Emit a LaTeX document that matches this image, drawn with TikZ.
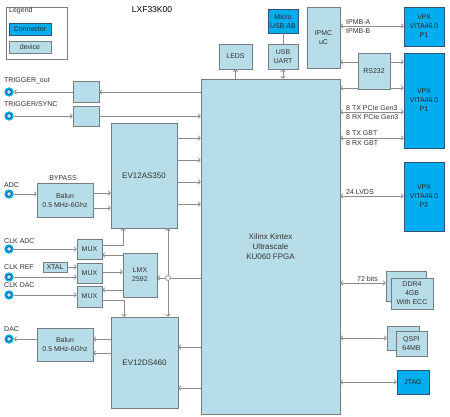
\documentclass[tikz,border=0pt]{standalone}
\usepackage{fontspec}
\setmainfont{Liberation Sans}
\usetikzlibrary{arrows.meta}
\definecolor{devfill}{RGB}{183,221,232}
\definecolor{devline}{RGB}{115,125,130}
\definecolor{confill}{RGB}{0,174,239}
\definecolor{conline}{RGB}{45,85,115}
\definecolor{wirecol}{RGB}{140,140,140}
\definecolor{jackin}{RGB}{25,70,130}
\tikzset{every picture/.style={x=1pt,y=-1pt}}
\tikzset{box/.style={rectangle,draw=devline,fill=devfill,line width=.6pt,inner sep=0pt,align=center,text=black!80,font=\fontsize{7}{9}\selectfont}}
\tikzset{port/.style={box,draw=conline,fill=confill,text=black!85}}
\tikzset{note/.style={inner sep=0pt,text=black!80,font=\fontsize{7}{9}\selectfont}}
\tikzset{jack/.style={circle,fill=confill,inner sep=0pt,minimum size=9.4,path picture={\draw [jackin,line width=.8pt,fill=white!75!confill] (path picture bounding box.center) circle (2.4);}}}
\tikzset{dot/.style={circle,draw=wirecol,fill=white,line width=.7pt,inner sep=0pt,minimum size=5}}
\tikzset{wire/.style={draw=wirecol,line width=.8pt}}
\tikzset{sig/.style={wire,-{Straight Barb[length=2pt,width=4.5pt]}}}
\tikzset{bus/.style={wire,{Straight Barb[length=2pt,width=4.5pt]}-{Straight Barb[length=2pt,width=4.5pt]}}}

\begin{document}
\begin{tikzpicture}
\useasboundingbox (0,0) rectangle (450,416);
% legend
\node [draw=devline,fill=white,line width=.6pt,minimum width=61,minimum height=52] (legend) at (36.5,33) {};
\node [note,anchor=west] (legendt) at (9,11) {Legend};
\node [port,minimum width=42,minimum height=12] (legconn) at (30,29) {Connector};
\node [box,minimum width=42,minimum height=12] (legdev) at (30,47) {device};
\node [note,font=\fontsize{8.5}{10}\selectfont,text=black] (title) at (152,10) {LXF33K00};

% fpga and the parts round it
\node [box,minimum width=139,minimum height=335,font=\fontsize{8}{10}\selectfont] (fpga) at (270.5,246.5) {Xilinx Kintex\\Ultrascale\\KU060 FPGA};
\node [port,minimum width=30,minimum height=24] (micro) at (283,21) {Micro\\USB AB};
\node [box,minimum width=33,minimum height=25] (leds) at (235.5,56.5) {LEDS};
\node [box,minimum width=30,minimum height=25] (uart) at (283,56.5) {USB\\UART};
\node [box,minimum width=33,minimum height=61] (ipmc) at (323.5,37.5) {IPMC\\uC};
\node [box,minimum width=32,minimum height=36] (rs232) at (374,71) {RS232};
\node [port,minimum width=40,minimum height=39] (vpxa) at (424,26.5) {VPX\\VITA46.0\\P1};
\node [port,minimum width=40,minimum height=95] (vpxb) at (424,100.5) {VPX\\VITA46.0\\P1};
\node [port,minimum width=40,minimum height=69] (vpxc) at (424,196.5) {VPX\\VITA46.0\\P2};
\node [box,minimum width=40,minimum height=30] (ddrback) at (406,286) {};
\node [box,minimum width=42,minimum height=31] (ddr) at (412,293.5) {DDR4\\4GB\\With ECC};
\node [box,minimum width=32,minimum height=24] (qspiback) at (403,338) {};
\node [box,minimum width=31,minimum height=25] (qspi) at (411.5,343.5) {QSPI\\64MB};
\node [port,minimum width=32,minimum height=24] (jtag) at (413,382) {JTAG};

% converters and clocks
\node [box,minimum width=26,minimum height=21] (trigout) at (86,91.5) {};
\node [box,minimum width=26,minimum height=20] (trigsync) at (86,116) {};
\node [box,minimum width=66,minimum height=105,font=\fontsize{8}{10}\selectfont] (adc) at (144,175.5) {EV12AS350};
\node [box,minimum width=56,minimum height=34] (balunadc) at (65,200) {Balun\\0.5 MHz-6Ghz};
\node [box,minimum width=25,minimum height=20] (muxadc) at (89.5,249) {MUX};
\node [box,minimum width=25,minimum height=20] (muxref) at (89.5,273) {MUX};
\node [box,minimum width=25,minimum height=21] (muxdac) at (89.5,296.5) {MUX};
\node [box,minimum width=24,minimum height=10] (xtal) at (55,267) {XTAL};
\node [box,minimum width=34,minimum height=44] (lmx) at (140,275) {LMX\\2592};
\node [box,minimum width=67,minimum height=91,font=\fontsize{8}{10}\selectfont] (dac) at (144.5,362.5) {EV12DS460};
\node [box,minimum width=56,minimum height=33] (balundac) at (65,344.5) {Balun\\0.5 MHz-6Ghz};
\node [dot] (junc) at (168,278) {};

% front panel jacks
\node [jack] (jtrigout) at (9,92) {};
\node [jack] (jtrigsync) at (9,116) {};
\node [jack] (jadc) at (9,194) {};
\node [jack] (jclkadc) at (9,249) {};
\node [jack] (jclkref) at (9,277) {};
\node [jack] (jclkdac) at (9,295) {};
\node [jack] (jdac) at (9,339) {};
\node [note,anchor=west] at (4,81) {TRIGGER\_out};
\node [note,anchor=west] at (4,104) {TRIGGER/SYNC};
\node [note,anchor=west] at (4,185) {ADC};
\node [note,anchor=west] at (4,241) {CLK ADC};
\node [note,anchor=west] at (4,267) {CLK REF};
\node [note,anchor=west] at (4,285) {CLK DAC};
\node [note,anchor=west] at (4,329) {DAC};
\node [note] at (63,178) {BYPASS};

% triggers
\draw [sig] (fpga.west |- jtrigout) -- (trigout.east |- jtrigout);
\draw [sig] (trigout.west |- jtrigout) -- (jtrigout.east);
\draw [sig] (jtrigsync.east) -- (trigsync.west);
\draw [sig] (trigsync.east) -- (fpga.west |- trigsync);

% adc path
\draw [sig] (jadc.east) -- (balunadc.west |- jadc);
\draw [sig] (balunadc.east |- 0,193) -- (adc.west |- 0,193);
\draw [sig] (balunadc.east |- 0,208) -- (adc.west |- 0,208);
\draw [sig] (adc.east |- 0,138) -- (fpga.west |- 0,138);
\draw [sig] (adc.east |- 0,160) -- (fpga.west |- 0,160);
\draw [sig] (adc.east |- 0,182) -- (fpga.west |- 0,182);
\draw [sig] (adc.east |- 0,204) -- (fpga.west |- 0,204);

% clocks
\draw [sig] (jclkadc.east) -- (muxadc.west |- jclkadc);
\draw [sig] (muxadc.east |- 0,245) -| (adc.south -| 123,0);
\draw [sig] (lmx.west |- 0,255) -- (muxadc.east |- 0,255);
\draw [sig] (xtal.east) -- (muxref.west |- xtal);
\draw [sig] (jclkref.east) -- (muxref.west |- jclkref);
\draw [sig] (muxref.east |- 0,272) -- (lmx.west |- 0,272);
\draw [sig] (lmx.west |- 0,290) -- (muxdac.east |- 0,290);
\draw [sig] (jclkdac.east) -- (muxdac.west |- jclkdac);
\draw [sig] (muxdac.east |- 0,300) -| (dac.north -| 124,0);
\draw [wire] (fpga.west |- junc) -- (junc.east);
\draw [sig] (junc.west) -- (lmx.east |- junc);
\draw [sig] (junc.north) -- (adc.south -| junc);
\draw [sig] (junc.south) -- (dac.north -| junc);

% dac path
\draw [sig] (fpga.west |- 0,347) -- (dac.east |- 0,347);
\draw [sig] (fpga.west |- 0,388) -- (dac.east |- 0,388);
\draw [sig] (dac.west |- 0,339) -- (balundac.east |- 0,339);
\draw [sig] (dac.west |- 0,353) -- (balundac.east |- 0,353);
\draw [sig] (balundac.west |- jdac) -- (jdac.east);

% top and right side
\draw [sig] (fpga.north -| leds) -- (leds.south);
\draw [bus] (uart.south) -- (fpga.north -| uart);
\draw [wire] (micro.south) -- (uart.north);
\draw [bus] (ipmc.east |- 0,26) -- (vpxa.west |- 0,26);
\draw [sig] (rs232.west |- 0,62) -- (ipmc.east |- 0,62);
\draw [sig] (rs232.east |- 0,62) -- (vpxb.west |- 0,62);
\draw [sig] (rs232.west |- 0,88) -- (fpga.east |- 0,88);
\draw [sig] (rs232.east |- 0,88) -- (vpxb.west |- 0,88);
\draw [bus] (fpga.east |- 0,112) -- (vpxb.west |- 0,112);
\draw [bus] (fpga.east |- 0,138) -- (vpxb.west |- 0,138);
\draw [bus] (fpga.east |- 0,196) -- (vpxc.west |- 0,196);
\draw [bus] (fpga.east |- 0,283) -- (ddrback.west |- 0,283);
\draw [bus] (fpga.east |- 0,338) -- (qspiback.west |- 0,338);
\draw [bus] (fpga.east |- jtag) -- (jtag.west);

\node [note,anchor=west] at (346,22) {IPMB-A};
\node [note,anchor=west] at (346,31) {IPMB-B};
\node [note,anchor=west] at (346,108) {8 TX PCIe Gen3};
\node [note,anchor=west] at (346,117) {8 RX PCIe Gen3};
\node [note,anchor=west] at (346,133) {8 TX GBT};
\node [note,anchor=west] at (346,143) {8 RX GBT};
\node [note,anchor=west] at (346,192) {24 LVDS};
\node [note,anchor=west] at (357,279) {72 bits};
\end{tikzpicture}
\end{document}
